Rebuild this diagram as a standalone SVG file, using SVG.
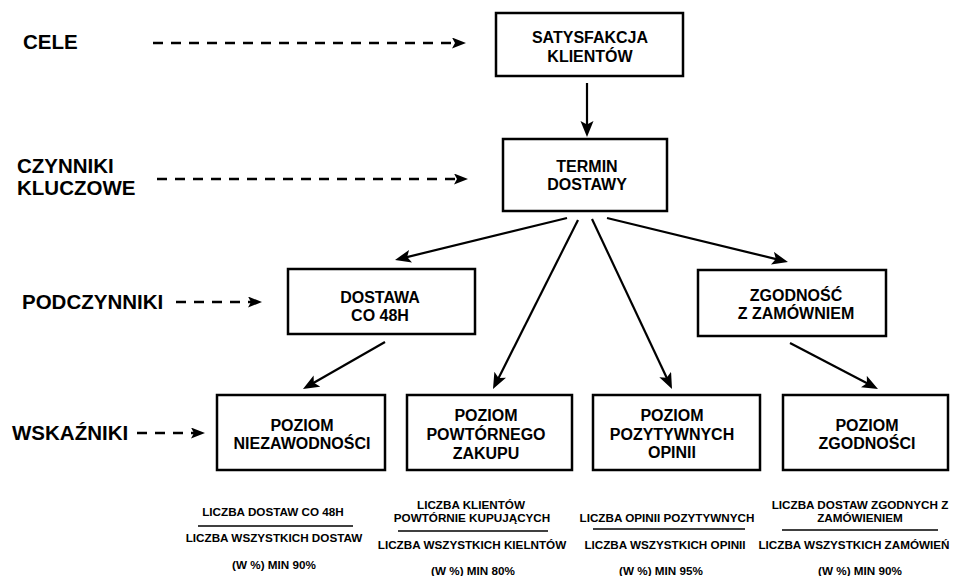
<svg xmlns="http://www.w3.org/2000/svg" width="956" height="576" viewBox="0 0 956 576">
<style>
  .box { fill: #ffffff; stroke: #000000; stroke-width: 2.5; }
  .nt { font-family: "Liberation Sans", Arial, sans-serif; font-weight: bold; font-size: 16px; text-anchor: middle; fill: #000; }
  .lbl { font-family: "Liberation Sans", Arial, sans-serif; font-weight: bold; font-size: 20.5px; fill: #000; }
  .ft { font-family: "Liberation Sans", Arial, sans-serif; font-weight: bold; font-size: 11.7px; text-anchor: middle; fill: #000; }
  .bar { stroke: #000; stroke-width: 1.6; }
  .conn { stroke: #000; stroke-width: 2.2; fill: none; marker-end: url(#ah); }
  .dash { stroke: #000; stroke-width: 2.5; fill: none; stroke-dasharray: 10 8; marker-end: url(#ahs); }
</style>
<defs>
  <marker id="ah" markerUnits="userSpaceOnUse" markerWidth="17" markerHeight="14" refX="8" refY="6.5" orient="auto">
    <path d="M0,0 L16,6.5 L0,13 L3.5,6.5 z" fill="#000"/>
  </marker>
  <marker id="ahs" markerUnits="userSpaceOnUse" markerWidth="15" markerHeight="12" refX="7" refY="5.5" orient="auto">
    <path d="M0,0 L14,5.5 L0,11 L3,5.5 z" fill="#000"/>
  </marker>
</defs>
<rect width="956" height="576" fill="#ffffff"/>

<g id="labels">
  <text class="lbl" x="23" y="49">CELE</text>
  <text class="lbl" x="17" y="173">CZYNNIKI</text>
  <text class="lbl" x="17" y="195">KLUCZOWE</text>
  <text class="lbl" x="22" y="309">PODCZYNNIKI</text>
  <text class="lbl" x="12" y="440">WSKAŹNIKI</text>
</g>

<g id="connectors">
  <line class="dash" x1="153" y1="43" x2="459" y2="43"/>
  <line class="dash" x1="157" y1="179" x2="461" y2="179"/>
  <line class="dash" x1="176" y1="302" x2="255" y2="302"/>
  <line class="dash" x1="137" y1="433" x2="198" y2="433"/>
  <line class="conn" x1="587" y1="83" x2="587" y2="129"/>
  <line class="conn" x1="567" y1="218" x2="402.8" y2="258.1"/>
  <line class="conn" x1="578" y1="220" x2="496.6" y2="381.9"/>
  <line class="conn" x1="592" y1="219" x2="668.6" y2="381.8"/>
  <line class="conn" x1="607" y1="218" x2="780.2" y2="260.1"/>
  <line class="conn" x1="385" y1="342" x2="309.9" y2="385"/>
  <line class="conn" x1="790" y1="343" x2="870.9" y2="385.3"/>
</g>

<g id="satysfakcja">
  <rect class="box" x="496" y="13" width="187" height="63"/>
  <text class="nt" x="590" y="43">SATYSFAKCJA</text>
  <text class="nt" x="590" y="62">KLIENTÓW</text>
</g>
<g id="termin">
  <rect class="box" x="503" y="139" width="164" height="72"/>
  <text class="nt" x="587" y="172">TERMIN</text>
  <text class="nt" x="587" y="190">DOSTAWY</text>
</g>
<g id="dostawa">
  <rect class="box" x="288" y="269" width="187" height="65"/>
  <text class="nt" x="380" y="303">DOSTAWA</text>
  <text class="nt" x="380" y="321">CO 48H</text>
</g>
<g id="zgodnosc">
  <rect class="box" x="698" y="270" width="188" height="66"/>
  <text class="nt" x="796" y="301">ZGODNOŚĆ</text>
  <text class="nt" x="796" y="319">Z ZAMÓWNIEM</text>
</g>
<g id="niezawodnosci">
  <rect class="box" x="217" y="395" width="168" height="75"/>
  <text class="nt" x="302" y="431">POZIOM</text>
  <text class="nt" x="302" y="449">NIEZAWODNOŚCI</text>
</g>
<g id="powtornego">
  <rect class="box" x="407" y="395" width="165" height="75"/>
  <text class="nt" x="486" y="421">POZIOM</text>
  <text class="nt" x="486" y="440">POWTÓRNEGO</text>
  <text class="nt" x="486" y="459">ZAKUPU</text>
</g>
<g id="opinii">
  <rect class="box" x="593" y="395" width="167" height="75"/>
  <text class="nt" x="672" y="421">POZIOM</text>
  <text class="nt" x="672" y="440">POZYTYWNYCH</text>
  <text class="nt" x="672" y="458">OPINII</text>
</g>
<g id="zgodnosci">
  <rect class="box" x="783" y="395" width="165" height="75"/>
  <text class="nt" x="867" y="431">POZIOM</text>
  <text class="nt" x="867" y="449">ZGODNOŚCI</text>
</g>

<g id="formula1">
  <text class="ft" x="273" y="516">LICZBA DOSTAW CO 48H</text>
  <line class="bar" x1="198" y1="526" x2="353" y2="526"/>
  <text class="ft" x="274" y="542">LICZBA WSZYSTKICH DOSTAW</text>
  <text class="ft" x="274" y="569">(W %) MIN 90%</text>
</g>
<g id="formula2">
  <text class="ft" x="471" y="509">LICZBA KLIENTÓW</text>
  <text class="ft" x="472" y="522">POWTÓRNIE KUPUJĄCYCH</text>
  <line class="bar" x1="398" y1="531" x2="548" y2="531"/>
  <text class="ft" x="472" y="549">LICZBA WSZYSTKICH KIELNTÓW</text>
  <text class="ft" x="473" y="575">(W %) MIN 80%</text>
</g>
<g id="formula3">
  <text class="ft" x="667" y="522">LICZBA OPINII POZYTYWNYCH</text>
  <line class="bar" x1="593" y1="529" x2="745" y2="529"/>
  <text class="ft" x="665" y="549">LICZBA WSZYSTKICH OPINII</text>
  <text class="ft" x="661" y="575">(W %) MIN 95%</text>
</g>
<g id="formula4">
  <text class="ft" x="860" y="509">LICZBA DOSTAW ZGODNYCH Z</text>
  <text class="ft" x="860" y="522">ZAMÓWIENIEM</text>
  <line class="bar" x1="782" y1="530" x2="938" y2="530"/>
  <text class="ft" x="854" y="549">LICZBA WSZYSTKICH ZAMÓWIEŃ</text>
  <text class="ft" x="860" y="575">(W %) MIN 90%</text>
</g>
</svg>
